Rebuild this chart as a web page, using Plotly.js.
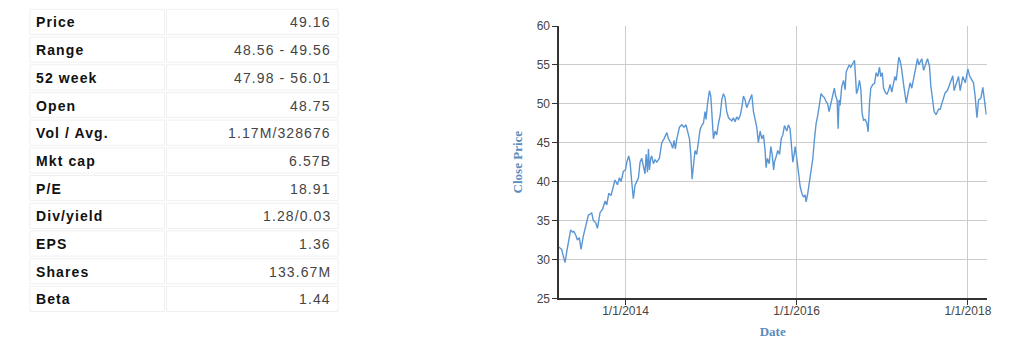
<!DOCTYPE html>
<html>
<head>
<meta charset="utf-8">
<script src="https://cdn.plot.ly/plotly-3.0.1.min.js"></script>
<style>
  html, body { margin: 0; padding: 0; background: #fff; }
  #chart { width: 1024px; height: 357px; }
  .annotation-text { letter-spacing: 1.1px; }
</style>
</head>
<body>
<div id="chart"></div>
<script>
// ---- Key statistics table ----
const statLabels = ["Price", "Range", "52 week", "Open", "Vol / Avg.", "Mkt cap", "P/E", "Div/yield", "EPS", "Shares", "Beta"];
const statValues = ["49.16", "48.56 - 49.56", "47.98 - 56.01", "48.75", "1.17M/328676", "6.57B", "18.91", "1.28/0.03", "1.36", "133.67M", "1.44"];

// ---- Close price series ----
const seriesStart = "2013-03-22";
const weeksSinceStart = [
  0, 1.8, 2.8, 3.9, 4.9, 5.9, 7.3, 8.5, 9.3, 10.6, 11.4, 12.6, 13.6, 15, 16.7, 18.1, 19.1, 20.1, 21.1, 22.6,
  23.6, 25.2, 26.8, 28.3, 29.3, 30.5, 31.9, 33.3, 34.3, 35.8, 37, 38, 39.4, 40.7, 41.5, 42.7, 43.5, 44.5, 45.5, 46.5,
  47.6, 48.6, 49.6, 50.6, 51.6, 52.6, 53.3, 54.1, 54.7, 55.3, 56.1, 56.7, 57.7, 58.7, 59.8, 61.4, 62.8, 64.2, 65.9, 66.9,
  68.3, 69.5, 70.3, 71.1, 72, 73.6, 75, 76.4, 77.6, 78.5, 79.7, 80.5, 81.3, 82.1, 83.1, 84.1, 85.2, 86.2, 87.2, 88.2,
  89.2, 89.8, 90.7, 91.9, 92.7, 93.5, 94.3, 95.3, 96.3, 97.4, 98.4, 99.4, 100.4, 101.4, 102.4, 103.5, 104.5, 105.5, 106.5, 107.5,
  108.5, 109.6, 110.6, 111.6, 112.6, 113.6, 114.6, 116.7, 117.7, 118.7, 119.7, 120.7, 121.7, 122.8, 123.8, 124.8, 125.8, 126.4, 127.2, 128.3,
  129.3, 130.1, 131, 131.5, 132.5, 133.5, 134.6, 135.6, 136.6, 137.6, 139, 140, 141, 142, 142.7, 143.5, 144.1, 145.1, 146.1, 147.2,
  148.2, 149.2, 150.2, 150.8, 151.8, 152.8, 153.8, 154.9, 155.9, 156.9, 157.9, 158.9, 159.9, 160.9, 161.9, 162.9, 163.9, 164.8, 165.8, 167,
  168, 168.8, 169.7, 170.3, 170.9, 171.5, 172.5, 173.6, 174.6, 175.2, 176.2, 177, 178, 179.3, 180.3, 180.9, 181.5, 182.3, 183.3, 184.1,
  184.9, 185.8, 186.8, 187.8, 188.6, 189.4, 190.2, 191.5, 192.5, 193.5, 194.5, 195.5, 196.3, 197.2, 198, 199, 200, 201, 202, 203,
  204, 204.9, 205.7, 206.5, 207.3, 208.1, 209, 210.2, 211.8, 213, 214.2, 215.2, 216.3, 217.3, 218.7, 219.5, 220.3, 221.3, 222.4, 223.2,
  224, 224.8, 226, 226.8, 228, 228.8, 230, 230.8, 231.5, 232.5, 234.1, 235.5, 236.9, 238.6, 240.2, 241, 242.2, 243.7, 244.7, 246.3,
  247.8, 249.4, 250.4, 251.4, 252.8, 253.8, 254.9, 255.9, 257.3, 258.5, 260, 260.6
];
const closePrice = [
  31.6, 31.3, 30.4, 29.6, 31, 32, 33.8, 33.5, 33.6, 33, 32.5, 32.8, 31.3, 33, 34.5, 35.7, 35.8, 36, 35, 34.7,
  34, 36, 36.5, 37.5, 37, 38.5, 38.2, 39.5, 40.2, 39.6, 40.5, 40, 41.3, 41.5, 42.5, 43.3, 42.5, 40, 37.8, 39.5,
  40, 40.5, 42.5, 43, 42, 41, 43.5, 41.2, 44.2, 41.5, 43, 43.3, 42.3, 42.8, 42.5, 43, 45, 45.5, 46.3, 45.5,
  45, 44.3, 45.3, 44.2, 45.5, 47, 47.3, 47, 47.3, 46.5, 45.5, 43.5, 40.3, 42, 44, 43.5, 45.5, 46.7, 47.2, 47.5,
  49, 48, 50, 51.7, 51, 47.5, 45.5, 46.5, 46, 47.5, 48.5, 50.5, 51.3, 50.8, 49, 48.2, 48, 47.8, 48.2, 47.7,
  48.3, 48, 48.5, 49.5, 51, 50.5, 49.5, 50.5, 51.2, 49, 48, 47, 45, 46.5, 45.5, 46, 44, 41.8, 43, 42.3,
  44.5, 43.5, 41.5, 42.5, 43.2, 44, 43.5, 45.5, 46, 47.2, 46.5, 47.3, 46.8, 44, 42.5, 43.5, 44.5, 43, 41, 39.3,
  38.5, 38, 38.3, 37.4, 38.5, 39.8, 41.5, 43, 45.5, 47.5, 48.5, 50, 51.3, 51, 50.8, 50.3, 50, 49, 50, 51,
  52, 51, 50.5, 46.8, 50.5, 49.8, 52.2, 53, 51.8, 54.1, 54.7, 55, 54.7, 55.2, 55.6, 53.5, 51.3, 51.8, 53, 52,
  48.8, 47.9, 48, 47.5, 46.4, 50, 52, 52.5, 52.6, 54, 53.5, 54.7, 53.5, 54, 52, 51.5, 51.2, 51.7, 52.5, 51.5,
  52.7, 53.5, 53, 54.2, 56, 55.5, 54.5, 52.5, 50.1, 51.5, 52.7, 52, 53.2, 54.3, 55.8, 55, 55.3, 55.8, 54.3, 55,
  55.3, 55.8, 54.8, 52.3, 50.6, 49, 48.6, 49, 49.3, 49.3, 50.3, 51.4, 51.7, 52.7, 53.6, 51.7, 52.5, 53.5, 51.7, 53.5,
  52.7, 54.5, 53.6, 53.2, 52.7, 51, 48.2, 50.5, 50.7, 52.1, 49.9, 48.6
];

const xTickDates = ["2014-01-01", "2016-01-01", "2018-01-01"];
const xTickLabels = ["1/1/2014", "1/1/2016", "1/1/2018"];

// ---- build the chart ----
const W = 1024, H = 357;
const px = v => v / W;          // pixel -> paper x
const py = v => 1 - v / H;      // pixel -> paper y

const t0 = Date.parse(seriesStart + "T00:00:00Z");
const dates = weeksSinceStart.map(w => new Date(t0 + w * 7 * 864e5).toISOString().replace("T", " ").slice(0, 19));

// table geometry (layout only)
const tableTop = 9.3, rowPitch = 27.7, cellH = 25.2;
const colL = [30, 164.5], colR = [166.5, 338];
const shapes = [];
const annotations = [];
const cellFont = { family: "Liberation Sans, Arial, sans-serif", size: 14 };
statLabels.forEach((lab, i) => {
  const y0 = tableTop + i * rowPitch, y1 = y0 + cellH, yc = (y0 + y1) / 2 + 0.5;
  [colL, colR].forEach(c => shapes.push({
    type: "rect", xref: "paper", yref: "paper",
    x0: px(c[0]), x1: px(c[1]), y0: py(y1), y1: py(y0),
    line: { color: "#f0f0f0", width: 1 }, fillcolor: "rgba(0,0,0,0)", layer: "below"
  }));
  annotations.push({
    xref: "paper", yref: "paper", x: px(34), y: py(yc), xanchor: "left", yanchor: "middle",
    text: "<b>" + lab + "</b>", showarrow: false,
    font: Object.assign({ color: "#111111" }, cellFont)
  });
  annotations.push({
    xref: "paper", yref: "paper", x: px(333), y: py(yc), xanchor: "right", yanchor: "middle",
    text: statValues[i], showarrow: false,
    font: Object.assign({ color: "#444444" }, cellFont)
  });
});

const lineTrace = {
  type: "scatter",
  mode: "lines",
  x: dates,
  y: closePrice,
  line: { color: "#5b96d4", width: 1.4 },
  hoverinfo: "x+y"
};

const axisFont = { family: "Liberation Sans, Arial, sans-serif", size: 12, color: "#444444" };
const titleFont = { family: "Liberation Serif, Times New Roman, serif", size: 13, color: "#5a8bbd", weight: "bold" };

const layout = {
  width: W,
  height: H,
  margin: { l: 0, r: 0, t: 0, b: 0 },
  paper_bgcolor: "#ffffff",
  plot_bgcolor: "#ffffff",
  showlegend: false,
  shapes: shapes,
  annotations: annotations,
  xaxis: {
    type: "date",
    domain: [px(558.7), px(986.7)],
    range: ["2013-03-22", "2018-03-22"],
    tickvals: xTickDates,
    ticktext: xTickLabels,
    showgrid: true,
    gridcolor: "#cccccc",
    gridwidth: 1,
    showline: true,
    linecolor: "#333333",
    linewidth: 1.3,
    ticks: "outside",
    ticklen: 5,
    tickcolor: "#333333",
    tickfont: axisFont,
    ticklabelstandoff: -4,
    zeroline: false,
    fixedrange: true,
    title: { text: "Date", font: titleFont, standoff: 10 }
  },
  yaxis: {
    domain: [py(298.3), py(26)],
    range: [25, 60],
    dtick: 5,
    tick0: 25,
    showgrid: true,
    gridcolor: "#cccccc",
    gridwidth: 1,
    showline: true,
    linecolor: "#333333",
    linewidth: 1.3,
    ticks: "outside",
    ticklen: 5,
    tickcolor: "#333333",
    tickfont: axisFont,
    zeroline: false,
    fixedrange: true,
    title: { text: "Close Price", font: titleFont, standoff: 11 }
  }
};

Plotly.newPlot("chart", [lineTrace], layout, { displayModeBar: false, staticPlot: true });
</script>
</body>
</html>
